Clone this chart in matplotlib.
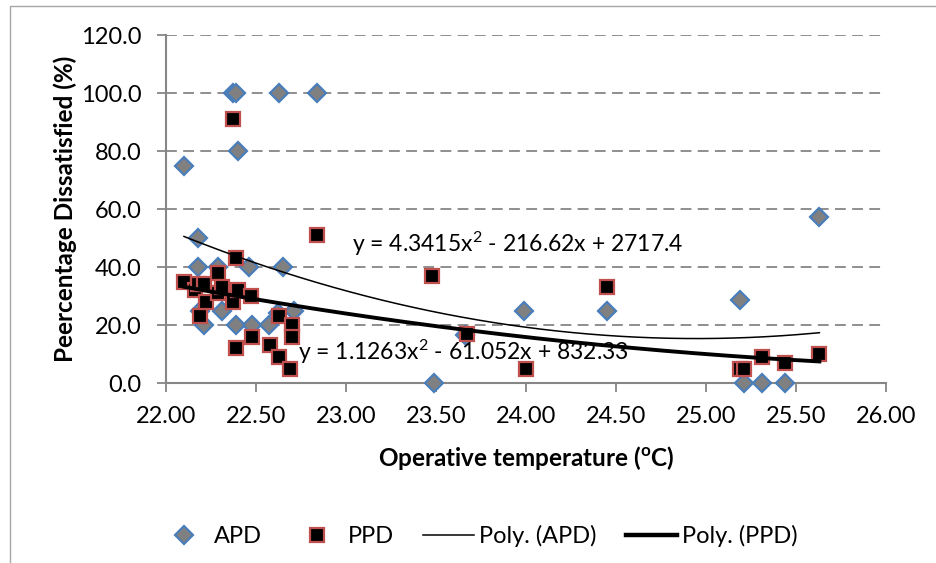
import numpy as np
import matplotlib.pyplot as plt
from matplotlib.lines import Line2D
from matplotlib.patches import Rectangle

plt.rcParams['font.family'] = ['Lato', 'DejaVu Sans']
plt.rcParams['mathtext.default'] = 'regular'

# actual percentage dissatisfied (survey)
apd_temp = [22.10, 22.18, 22.18, 22.19, 22.21, 22.29, 22.31, 22.37, 22.39, 22.39,
            22.40, 22.46, 22.48, 22.57, 22.62, 22.63, 22.65, 22.71, 22.84, 23.49,
            23.66, 23.99, 24.45, 25.19, 25.21, 25.31, 25.44, 25.63]
apd_val = [75.0, 50.0, 40.0, 25.0, 20.0, 40.0, 25.0, 100.0, 100.0, 20.0,
           80.0, 40.0, 20.0, 20.0, 24.0, 100.0, 40.0, 25.0, 100.0, 0.0,
           16.7, 25.0, 25.0, 28.6, 0.0, 0.0, 0.0, 57.1]

# predicted percentage dissatisfied
ppd_temp = [22.10, 22.16, 22.18, 22.19, 22.21, 22.22, 22.29, 22.29, 22.31, 22.37,
            22.37, 22.39, 22.39, 22.40, 22.47, 22.48, 22.58, 22.63, 22.63, 22.69,
            22.70, 22.70, 22.84, 23.48, 23.67, 24.00, 24.45, 25.19, 25.21, 25.31,
            25.44, 25.63]
ppd_val = [35.0, 32.0, 34.0, 23.0, 34.0, 28.0, 38.0, 31.0, 33.0, 91.0,
           28.0, 43.0, 12.0, 32.0, 30.0, 16.0, 13.0, 23.0, 9.0, 5.0,
           20.0, 16.0, 51.0, 37.0, 17.0, 5.0, 33.0, 5.0, 5.0, 9.0,
           7.0, 10.0]

# quadratic trendline coefficients (a, b, c)
apd_poly = [4.3415, -216.62, 2717.4]
ppd_poly = [1.1263, -61.052, 832.33]

x_ticks = np.arange(22.0, 26.01, 0.5)
y_ticks = np.arange(0, 121, 20)

W, H = 936, 563
fig = plt.figure(figsize=(W / 100, H / 100), dpi=100)
ax = fig.add_axes([166 / W, 1 - 383 / H, 720 / W, 348 / H])

# chart border
fig.patches.append(Rectangle((10 / W, -0.1), 1.2, 1 - 6 / H + 0.1, transform=fig.transFigure,
                             fill=False, edgecolor='#a6a6a6', lw=1.0))

gray = '#868686'
for y in y_ticks[1:]:
    ax.axhline(y, color=gray, lw=1.3, ls=(0, (6, 3.5)), zorder=1)

apd_style = dict(ls='none', marker='D', ms=9.5, mfc='#808080', mec='#4a7ebb', mew=1.6)
ppd_style = dict(ls='none', marker='s', ms=9.5, mfc='black', mec='#c0504d', mew=1.6)

ax.plot(apd_temp, apd_val, zorder=3, clip_on=False, **apd_style)
ax.plot(ppd_temp, ppd_val, zorder=4, clip_on=False, **ppd_style)

xs = np.linspace(min(apd_temp), max(apd_temp), 200)
ax.plot(xs, np.polyval(apd_poly, xs), color='black', lw=1.1, zorder=5)
xs = np.linspace(min(ppd_temp), max(ppd_temp), 200)
ax.plot(xs, np.polyval(ppd_poly, xs), color='black', lw=2.8, zorder=5)

ax.text(23.033, 47.9, 'y = 4.3415x$^{2}$ - 216.62x + 2717.4', fontsize=16.5,
        ha='left', va='center', zorder=6)
ax.text(22.733, 10.7, 'y = 1.1263x$^{2}$ - 61.052x + 832.33', fontsize=16.5,
        ha='left', va='center', zorder=6)

ax.set_xlim(22.0, 26.0)
ax.set_ylim(0, 120)
ax.set_xticks(x_ticks)
ax.set_yticks(y_ticks)
ax.set_xticklabels([f'{v:.2f}' for v in x_ticks])
ax.set_yticklabels([f'{v:.1f}' for v in y_ticks])
ax.tick_params(axis='both', colors=gray, labelcolor='black', labelsize=17,
               length=6.5, width=1.3, direction='out')
ax.tick_params(axis='x', pad=10)
ax.tick_params(axis='y', pad=11)
for s in ['top', 'right']:
    ax.spines[s].set_visible(False)
for s in ['left', 'bottom']:
    ax.spines[s].set_color(gray)
    ax.spines[s].set_linewidth(1.5)

ax.set_xlabel('Operative temperature ($^{o}$C)', fontsize=17.5, fontweight='bold', labelpad=12)
ax.set_ylabel('Peercentage Dissatisfied (%)', fontsize=17.5, fontweight='bold', labelpad=3)

handles = [
    Line2D([], [], **apd_style),
    Line2D([], [], **ppd_style),
    Line2D([], [], color='black', lw=1.1),
    Line2D([], [], color='black', lw=3.2),
]
fig.legend(handles, ['APD', 'PPD', 'Poly. (APD)', 'Poly. (PPD)'],
           loc='center', bbox_to_anchor=(478 / W, 1 - 536 / H), ncol=4,
           frameon=False, fontsize=17, handlelength=2.16, handletextpad=0.2,
           columnspacing=1.25, borderpad=0, borderaxespad=0)

fig.savefig('out.png', dpi=100)
